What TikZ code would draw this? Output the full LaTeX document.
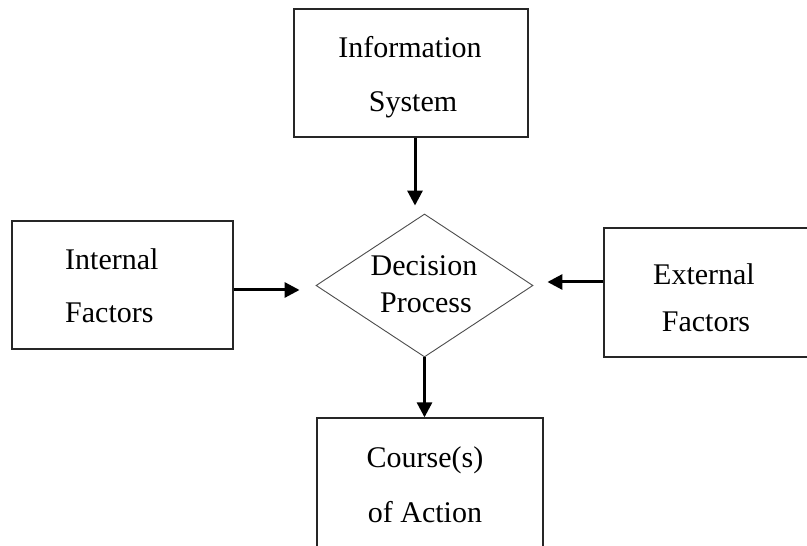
\documentclass[tikz,border=0pt]{standalone}
\usepackage{fontspec}
\setmainfont{Liberation Serif}
\usetikzlibrary{shapes.geometric,arrows.meta}
\tikzset{
  box/.style={draw=black!85, line width=1.3pt, rectangle, inner sep=0pt},
  dia/.style={draw=black!70, line width=0.9pt, diamond, inner sep=0pt},
  lbl/.style={font=\fontsize{30}{30}\selectfont, inner sep=0pt, anchor=base},
  flow/.style={line width=3pt, -{Triangle[length=15pt,width=15pt]}},
}
\begin{document}
\begin{tikzpicture}[x=1pt,y=1pt]
\useasboundingbox (0,0) rectangle (807,546);
\fill[white] (0,0) rectangle (807,546);
\clip (0,0) rectangle (807,546);
% boxes
\node[box, minimum width=234pt, minimum height=128pt] (info) at (411,473) {};
\node[box, minimum width=221pt, minimum height=128pt] (int) at (122.5,261) {};
\node[box, minimum width=226pt, minimum height=129pt] (ext) at (717,253.5) {};
\node[box, minimum width=226pt, minimum height=142pt] (course) at (430,57) {};
\node[dia, minimum width=217pt, minimum height=143pt] (dec) at (424.5,260.5) {};
% texts
\node[lbl] (t1) at (410,488) {Information};
\node[lbl] (t2) at (413,434) {System};
\node[lbl, anchor=base west] (t3) at (65,276) {Internal};
\node[lbl, anchor=base west] (t4) at (65,223) {Factors};
\node[lbl] (t5) at (424,270) {Decision};
\node[lbl] (t6) at (426,233) {Process};
\node[lbl] (t7) at (704,261) {External};
\node[lbl] (t8) at (706,214) {Factors};
\node[lbl] (t9) at (425,78) {Course(s)};
\node[lbl] (t10) at (425,23) {of Action};
% connectors
\draw[flow, shorten >=8pt] ([xshift=4pt]info.south) -- ([xshift=4pt]info.south |- dec.north);
\draw[flow, shorten >=16pt] ([yshift=-5pt]int.east) -- ([yshift=-5pt]int.east -| dec.west);
\draw[flow, shorten >=14pt] ([yshift=10.5pt]ext.west) -- ([yshift=10.5pt]ext.west -| dec.east);
\draw[flow] (dec.south) -- (dec.south |- course.north);
\end{tikzpicture}
\end{document}
